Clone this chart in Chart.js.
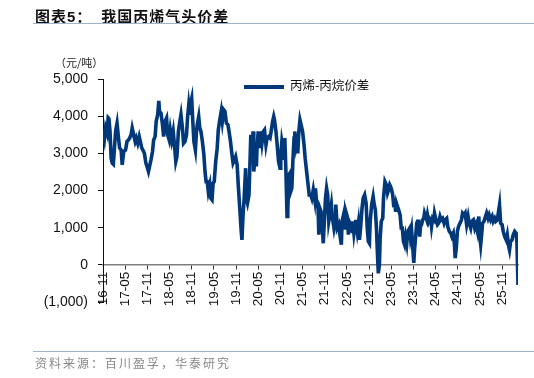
<!DOCTYPE html>
<html>
<head>
<meta charset="utf-8">
<script src="https://cdn.jsdelivr.net/npm/chart.js@4/dist/chart.umd.min.js"></script>
<style>
  body { margin: 0; background: #fff; }
  #wrap { position: relative; width: 534px; height: 378px; font-family: "Liberation Sans", Arial, sans-serif; }
  #wrap canvas { position: absolute; left: 0; top: 0; }
  .title { position: absolute; left: 35px; top: 5px; font: bold 15px "Noto Sans CJK SC", sans-serif; color: #111; letter-spacing: 1px; white-space: nowrap; }
  .title .num { font-family: "Liberation Sans", Arial, sans-serif; }
  .rule { position: absolute; left: 33px; right: 0; height: 1px; background: #9fb3cc; }
  .unit { position: absolute; left: 55px; top: 54px; font: 11px "Noto Sans CJK SC", sans-serif; color: #222; }
  .legend { position: absolute; left: 244px; top: 75px; font: 12.5px "Noto Sans CJK SC", sans-serif; color: #111; white-space: nowrap; }
  .legend span.swatch { display: inline-block; width: 40px; height: 4px; background: #00387a; vertical-align: middle; margin-right: 6px; }
  .source { position: absolute; left: 35px; top: 354px; font: 12px "Noto Sans CJK SC", sans-serif; color: #888; letter-spacing: 2px; white-space: nowrap; }
</style>
</head>
<body>
<div id="wrap">
  <canvas id="spreadChart"></canvas>
  <div class="title">图表<span class="num">5</span>：&nbsp; 我国丙烯气头价差</div>
  <div class="rule" style="top:23px"></div>
  <div class="unit">（元/吨）</div>
  <div class="legend"><span class="swatch"></span>丙烯-丙烷价差</div>
  <div class="rule" style="top:351px"></div>
  <div class="source">资料来源：百川盈孚，华泰研究</div>
</div>
<script>
// months since Nov 2016
const months = [
  0.0, 0.4, 0.7, 1.1, 1.4, 1.6, 1.9, 2.2, 2.5, 2.8, 3.1, 3.4, 3.8, 4.2, 4.5, 4.9, 5.2, 5.6,
  6.1, 6.5, 6.9, 7.2, 7.6, 7.9, 8.3, 8.7, 9.0, 9.4, 9.8, 10.1, 10.5, 10.8, 11.2, 11.6, 11.9,
  12.3, 12.6, 13.0, 13.4, 13.7, 14.1, 14.4, 14.8, 15.1, 15.3, 15.7, 16.1, 16.4, 16.8, 17.2,
  17.5, 17.9, 18.2, 18.6, 19.0, 19.3, 19.7, 20.0, 20.4, 20.8, 21.1, 21.5, 21.8, 22.2, 22.6,
  22.9, 23.2, 23.5, 23.7, 24.0, 24.3, 24.6, 25.0, 25.3, 25.5, 25.9, 26.2, 26.5, 26.9, 27.3,
  27.6, 27.9, 28.2, 28.5, 28.9, 29.2, 29.5, 29.8, 30.1, 30.5, 30.9, 31.2, 31.6, 32.0, 32.3,
  32.7, 33.0, 33.4, 33.8, 34.1, 34.5, 34.8, 35.2, 35.6, 35.9, 36.3, 36.6, 37.0, 37.4, 37.6,
  37.9, 38.2, 38.6, 38.8, 39.1, 39.5, 39.7, 40.0, 40.3, 40.6, 40.8, 41.2, 41.5, 41.7, 42.0,
  42.3, 42.6, 43.0, 43.4, 43.7, 44.1, 44.4, 44.8, 45.2, 45.5, 45.9, 46.2, 46.4, 46.8, 47.1,
  47.5, 47.9, 48.1, 48.4, 48.7, 49.0, 49.2, 49.5, 49.8, 50.0, 50.3, 50.6, 50.8, 51.1, 51.4,
  51.7, 51.9, 52.2, 52.5, 52.7, 53.0, 53.3, 53.6, 54.0, 54.4, 54.7, 55.1, 55.5, 55.8, 56.2,
  56.5, 56.9, 57.3, 57.5, 57.8, 58.2, 58.4, 58.7, 59.0, 59.3, 59.6, 59.9, 60.2, 60.5, 60.8,
  61.1, 61.4, 61.8, 62.1, 62.5, 62.8, 63.0, 63.4, 63.8, 64.1, 64.5, 64.7, 65.1, 65.5, 65.7,
  66.1, 66.4, 66.6, 67.0, 67.4, 67.6, 67.9, 68.2, 68.4, 68.8, 69.1, 69.4, 69.7, 70.1, 70.4,
  70.8, 71.2, 71.5, 71.8, 72.1, 72.3, 72.7, 73.1, 73.4, 73.7, 74.0, 74.2, 74.5, 74.8, 75.0,
  75.3, 75.7, 75.9, 76.3, 76.7, 77.0, 77.3, 77.6, 77.8, 78.1, 78.4, 78.6, 78.9, 79.2, 79.4,
  79.7, 80.0, 80.4, 80.7, 81.0, 81.3, 81.6, 81.9, 82.2, 82.4, 82.7, 83.0, 83.2, 83.5, 83.8,
  84.1, 84.3, 84.6, 84.9, 85.1, 85.4, 85.7, 85.9, 86.2, 86.5, 86.8, 87.0, 87.3, 87.6, 87.8,
  88.1, 88.4, 88.7, 88.9, 89.2, 89.5, 89.7, 90.1, 90.5, 90.8, 91.2, 91.5, 91.9, 92.3, 92.6,
  93.0, 93.3, 93.7, 94.1, 94.4, 94.8, 95.1, 95.3, 95.6, 95.9, 96.2, 96.6, 97.0, 97.3, 97.7,
  98.0, 98.4, 98.8, 99.1, 99.5, 99.8, 100.2, 100.6, 100.9, 101.3, 101.7, 101.9, 102.2, 102.5,
  102.7, 103.1, 103.5, 103.8, 104.2, 104.5, 104.9, 105.3, 105.6, 106.0, 106.3, 106.7, 107.1,
  107.3, 107.6, 108.0, 108.3, 108.7, 109.1, 109.4, 109.8, 110.0, 110.3, 110.7, 111.0, 111.4,
  111.8, 112.0, 112.3
];

// 丙烯-丙烷价差, 元/吨
const spread = [
  3630, 3400, 3680, 3540, 3960, 3940, 3590, 2870, 2740, 2710, 3140, 3590, 3810, 3410, 3140, 3090, 2690, 3050,
  3090, 3320, 3360, 3410, 3500, 3680, 3500, 3320, 3410, 3270, 3450, 3320, 3140, 3090, 3000, 2740, 2650,
  2510, 2650, 2830, 3050, 3360, 3450, 3860, 4040, 4410, 4130, 4080, 3770, 3450, 3860, 3950,
  3500, 3360, 3630, 3360, 3590, 3270, 2780, 2910, 3590, 3860, 4040, 3680, 3270, 3320, 3500,
  3990, 4300, 4040, 4350, 4480, 3860, 3320, 3090, 3590, 3770, 3990, 3680, 3590, 3320, 2960,
  2510, 2240, 2240, 1970, 2150, 1790, 1750, 2200, 2240, 2780, 3140, 3630, 3900, 4130, 3860,
  4170, 4130, 3810, 3770, 3590, 3320, 3050, 2740, 2830, 2910, 2690, 2150, 1530, 900, 670,
  1350, 1790, 2600, 1790, 1660, 1880, 2510, 3500, 2870, 3590, 2510, 2960, 2650, 3180, 3590,
  3140, 3590, 3270, 3590, 3630, 3230, 3410, 3450, 3410, 3590, 3860, 3990, 3900, 3590, 3270,
  2780, 2600, 2910, 3320, 3140, 2870, 3410, 2510, 1300, 1440, 2420, 2470, 1970, 2060, 2830,
  3410, 3590, 3270, 3500, 3000, 3590, 3900, 3770, 3590, 3230, 2870, 2510, 2150, 1880, 1880,
  1790, 2020, 1750, 2060, 1660, 1520, 810, 1520, 1440, 1080, 580, 1170, 1790, 2060, 1880,
  1170, 1350, 1620, 1260, 990, 1170, 1620, 990, 1080, 810, 540, 1170, 1350, 990, 1440,
  1300, 810, 1170, 1080, 900, 1170, 850, 1080, 1210, 900, 1120, 670, 990, 1530, 1790,
  1880, 1660, 990, 630, 580, 1170, 1620, 1840, 1620, 1480, 990, 450, -230, 0, 720,
  1170, 1260, 1790, 2240, 2150, 1930, 2020, 2150, 2110, 2020, 1880, 1660, 1700, 1430, 1660,
  1570, 1480, 1340, 990, 990, 630, 540, 760, 580, 810, 940, 990, 760, 940, 490,
  50, 400, 760, 1120, 1170, 1170, 760, 1030, 1080, 1210, 1250, 1390, 1300, 1210, 1340,
  1170, 1250, 1210, 1030, 1250, 1210, 1390, 1210, 1080, 1120, 1300, 1210, 1250, 1120, 1210,
  1250, 1030, 900, 850, 760, 850, 540, 180, 450, 900, 1030, 1120, 1210, 1390, 1340,
  1390, 1080, 1300, 1120, 990, 1170, 1210, 990, 1080, 900, 1300, 810, 540, 850,
  1120, 1170, 1300, 1390, 1250, 1340, 1210, 1300, 1170, 1250, 1170, 1210, 1480,
  1610, 1120, 1080, 900, 760, 670, 810, 490, 400, 630, 670, 810, 900,
  850, 630, -540
];

const tickLabels = ['16-11', '17-05', '17-11', '18-05', '18-11', '19-05', '19-11', '20-05', '20-11',
  '21-05', '21-11', '22-05', '22-11', '23-05', '23-11', '24-05', '24-11', '25-05', '25-11'];

const yTicks = [-1000, 0, 1000, 2000, 3000, 4000, 5000];

function fmtY(v) {
  const s = Math.abs(v).toLocaleString('en-US');
  return v < 0 ? '(' + s + ')' : s;
}

const points = months.map((m, i) => ({ x: m, y: spread[i] }));

const ctx = document.getElementById('spreadChart').getContext('2d');
new Chart(ctx, {
  type: 'line',
  data: {
    datasets: [{
      label: '丙烯-丙烷价差',
      data: points,
      borderColor: '#00387a',
      borderWidth: 3.6,
      pointRadius: 0,
      tension: 0,
      fill: false
    }]
  },
  options: {
    responsive: true,
    maintainAspectRatio: false,
    animation: false,
    layout: { padding: { left: 0, right: 16, top: 79, bottom: 76 } },
    plugins: {
      legend: { display: false },
      tooltip: { enabled: false }
    },
    scales: {
      x: {
        type: 'linear',
        position: { y: 0 },
        min: 0,
        max: 112.3,
        afterFit: (scale) => { scale.height = 0; },
        afterBuildTicks: (scale) => {
          scale.ticks = tickLabels.map((_, i) => ({ value: i * 6 }));
        },
        border: { display: true, color: '#7f7f7f', width: 1.5 },
        grid: { display: true, drawOnChartArea: false, drawTicks: true, tickLength: 4, color: '#333' },
        ticks: {
          autoSkip: false,
          maxRotation: 90,
          minRotation: 90,
          padding: 3,
          color: '#111',
          font: { family: '"Liberation Sans", Arial, sans-serif', size: 13.5 },
          callback: (v) => tickLabels[Math.round(v / 6)]
        }
      },
      y: {
        min: -1000,
        max: 5000,
        afterFit: (scale) => { scale.width = 103; },
        afterBuildTicks: (scale) => {
          scale.ticks = yTicks.map(v => ({ value: v }));
        },
        border: { display: true, color: '#111', width: 1 },
        grid: { display: true, drawOnChartArea: false, drawTicks: true, tickLength: 5, color: '#111' },
        ticks: {
          padding: 10,
          color: '#111',
          font: { family: '"Liberation Sans", Arial, sans-serif', size: 14 },
          callback: (v) => fmtY(v)
        }
      }
    }
  }
});
</script>
</body>
</html>
